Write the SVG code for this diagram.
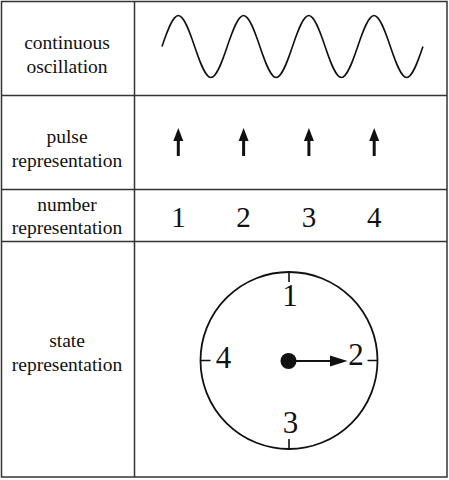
<svg xmlns="http://www.w3.org/2000/svg" width="449" height="480" viewBox="0 0 449 480">
<style>
.grid{fill:none;stroke:#333;stroke-width:1.5}
.lbl{font-family:"Liberation Serif","Times New Roman",serif;font-size:19.5px;fill:#111;text-anchor:middle}
.num{font-family:"Liberation Serif","Times New Roman",serif;font-size:29px;fill:#111;text-anchor:middle}
.cnum{font-family:"Liberation Serif","Times New Roman",serif;font-size:31px;fill:#111;text-anchor:middle}
.ln{fill:none;stroke:#111;stroke-width:1.6}
</style>
<defs>
<g id="pulse"><rect x="-1.5" y="-16" width="3" height="16" fill="#111"/><polygon points="0,-28 5,-15 -5,-15" fill="#111"/></g>
</defs>
<rect width="449" height="480" fill="#fff"/>
<g id="grid">
<rect class="grid" x="1.5" y="1.5" width="445.5" height="475.5"/>
<line class="grid" x1="134.5" y1="1.5" x2="134.5" y2="477"/>
<line class="grid" x1="1.5" y1="95.5" x2="447" y2="95.5"/>
<line class="grid" x1="1.5" y1="189.5" x2="447" y2="189.5"/>
<line class="grid" x1="1.5" y1="241.5" x2="447" y2="241.5"/>
</g>
<g id="label-continuous"><text class="lbl" x="67" y="49">continuous</text><text class="lbl" x="67" y="73">oscillation</text></g>
<g id="label-pulse"><text class="lbl" x="67" y="143">pulse</text><text class="lbl" x="67" y="166.5">representation</text></g>
<g id="label-number"><text class="lbl" x="67" y="211">number</text><text class="lbl" x="67" y="233.5">representation</text></g>
<g id="label-state"><text class="lbl" x="67" y="347">state</text><text class="lbl" x="67" y="370.5">representation</text></g>
<g id="wave">
<path class="ln" d="M162,46.5 c5.32,-15.88 10.70,-31 16.31,-31 s10.99,15.12 16.31,31 s10.70,31 16.31,31 s10.99,-15.12 16.31,-31 s10.70,-31 16.31,-31 s10.99,15.12 16.31,31 s10.70,31 16.31,31 s10.99,-15.12 16.31,-31 s10.70,-31 16.31,-31 s10.99,15.12 16.31,31 s10.70,31 16.31,31 s10.99,-15.12 16.31,-31 s10.70,-31 16.31,-31 s10.99,15.12 16.31,31 s10.70,31 16.31,31 s10.99,-15.12 16.31,-31"/>
</g>
<g id="pulses">
<use href="#pulse" x="178.3" y="156"/>
<use href="#pulse" x="243.6" y="156"/>
<use href="#pulse" x="308.9" y="156"/>
<use href="#pulse" x="374.2" y="156"/>
</g>
<g id="numbers">
<text class="num" x="178.5" y="227">1</text>
<text class="num" x="243.6" y="227">2</text>
<text class="num" x="308.9" y="227">3</text>
<text class="num" x="374.2" y="227">4</text>
</g>
<g id="clock">
<circle cx="289" cy="360.5" r="88.5" fill="none" stroke="#111" stroke-width="1.8"/>
<path class="ln" d="M289,272 v10 M289,449 v-10 M200.5,360.5 h10 M377.5,360.5 h-10"/>
<text class="cnum" x="290" y="305.5">1</text>
<text class="cnum" x="356" y="365">2</text>
<text class="cnum" x="290.5" y="433">3</text>
<text class="cnum" x="223.5" y="368">4</text>
</g>
<g id="connectors">
<circle cx="288.5" cy="361" r="8" fill="#111"/>
<line x1="288.5" y1="361" x2="331" y2="361" stroke="#111" stroke-width="2"/>
<polygon points="347.5,361 330,355.5 330,366.5" fill="#111"/>
</g>
</svg>
